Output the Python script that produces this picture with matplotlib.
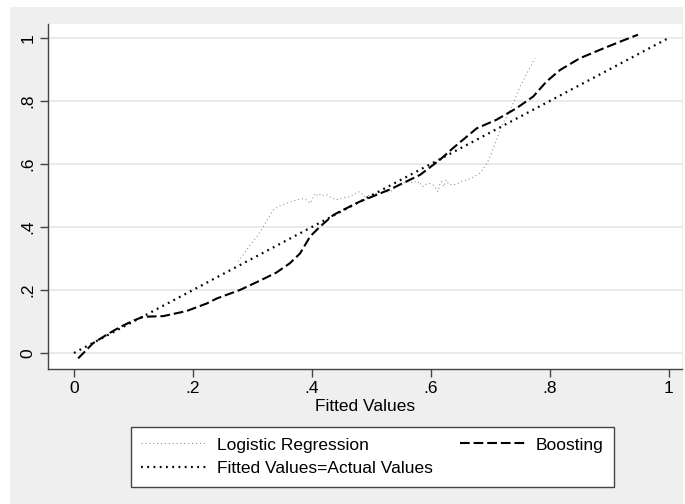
import matplotlib
matplotlib.use('Agg')
import matplotlib.pyplot as plt
from matplotlib.patches import Rectangle

plt.rcParams['font.family'] = ['Liberation Sans', 'DejaVu Sans']
plt.rcParams['lines.scale_dashes'] = False

# logistic regression calibration curve (noisy)
logit_x = [0.276, 0.287, 0.296, 0.306, 0.315, 0.325, 0.335, 0.345, 0.357, 0.368,
           0.38, 0.386, 0.392, 0.397, 0.401, 0.405, 0.41, 0.415, 0.42, 0.425,
           0.43, 0.436, 0.441, 0.448, 0.455, 0.464, 0.471, 0.478, 0.484, 0.489,
           0.495, 0.503, 0.512, 0.52, 0.531, 0.538, 0.545, 0.552, 0.559, 0.566,
           0.572, 0.578, 0.581, 0.584, 0.587, 0.592, 0.598, 0.603, 0.607, 0.61,
           0.612, 0.615, 0.618, 0.621, 0.626, 0.63, 0.637, 0.645, 0.652, 0.66,
           0.671, 0.682, 0.688, 0.694, 0.7, 0.705, 0.712, 0.7185, 0.726, 0.733,
           0.741, 0.75, 0.762, 0.775]
logit_y = [0.29, 0.318, 0.343, 0.366, 0.39, 0.423, 0.454, 0.466, 0.475, 0.482,
           0.488, 0.49, 0.484, 0.475, 0.49, 0.507, 0.498, 0.505, 0.5, 0.502,
           0.495, 0.49, 0.486, 0.49, 0.493, 0.496, 0.503, 0.512, 0.505, 0.496,
           0.5, 0.505, 0.508, 0.51, 0.512, 0.52, 0.53, 0.538, 0.544, 0.54,
           0.546, 0.54, 0.544, 0.53, 0.528, 0.536, 0.538, 0.534, 0.527, 0.515,
           0.512, 0.535, 0.544, 0.528, 0.549, 0.535, 0.533, 0.538, 0.545, 0.549,
           0.558, 0.57, 0.585, 0.602, 0.625, 0.65, 0.685, 0.719, 0.745, 0.771,
           0.805, 0.845, 0.89, 0.935]

# boosting calibration curve
boost_x = [0.007, 0.032, 0.055, 0.077, 0.1, 0.1165, 0.15, 0.189, 0.223, 0.24,
           0.279, 0.313, 0.34, 0.363, 0.38, 0.397, 0.413, 0.436, 0.447, 0.48,
           0.531, 0.5815, 0.615, 0.637, 0.677, 0.71, 0.744, 0.772, 0.794, 0.817,
           0.85, 0.884, 0.918, 0.948]
boost_y = [-0.017, 0.031, 0.058, 0.082, 0.103, 0.115, 0.117, 0.133, 0.157, 0.173,
           0.2, 0.23, 0.255, 0.285, 0.316, 0.37, 0.4, 0.438, 0.449, 0.48,
           0.519, 0.565, 0.613, 0.65, 0.713, 0.74, 0.777, 0.814, 0.861, 0.898,
           0.935, 0.962, 0.988, 1.01]

# 45 degree line
ref_x = [0, 1]
ref_y = [0, 1]

ticks = [0, 0.2, 0.4, 0.6, 0.8, 1]
tick_labels = ['0', '.2', '.4', '.6', '.8', '1']

FS = 12.5
W, H = 685, 504
fig = plt.figure(figsize=(W / 100, H / 100), dpi=100, facecolor='white')
bg = Rectangle((10 / W, 0), 673 / W, 497 / H, transform=fig.transFigure,
               facecolor='#efefef', edgecolor='none', zorder=-10)
fig.patches.append(bg)

ax = fig.add_axes([48 / W, (H - 369) / H, 634 / W, 345 / H])
ax.set_facecolor('white')

l1, = ax.plot(logit_x, logit_y, color='#8a8a8a', linewidth=0.7, dashes=(0.8, 2.0),
              label='Logistic Regression')
l2, = ax.plot(boost_x, boost_y, color='black', linewidth=1.5, dashes=(7.0, 2.8),
              label='Boosting')
l3, = ax.plot(ref_x, ref_y, color='black', linewidth=1.6, dashes=(1.3, 3.2),
              label='Fitted Values=Actual Values')

ax.set_xlim(-0.0437, 1.022)
ax.set_ylim(-0.0508, 1.044)
ax.set_xticks(ticks)
ax.set_xticklabels(tick_labels)
ax.set_yticks(ticks)
ax.set_yticklabels(tick_labels, rotation=90, va='center')
ax.tick_params(axis='both', labelsize=FS, length=6, width=1, color='#444444')
ax.tick_params(axis='x', pad=2.5)
ax.tick_params(axis='y', pad=3)
ax.yaxis.grid(True, color='#e4e4e4', linewidth=1.1)
ax.set_axisbelow(True)
for s in ['top', 'right']:
    ax.spines[s].set_visible(False)
for s in ['left', 'bottom']:
    ax.spines[s].set_color('#444444')
    ax.spines[s].set_linewidth(1)
ax.set_xlabel('Fitted Values', fontsize=FS, labelpad=2)

leg = fig.legend([l1, l3, l2], [l1.get_label(), l3.get_label(), l2.get_label()],
                 ncol=2, loc='upper left', mode='expand',
                 bbox_to_anchor=(131 / W, (H - 427) / H, 483 / W, 0.0),
                 borderaxespad=0, fontsize=FS, handlelength=3.7, handletextpad=0.65,
                 labelspacing=0.5, borderpad=0.6, fancybox=False, frameon=True)
leg.get_frame().set_edgecolor('#444444')
leg.get_frame().set_linewidth(1)
leg.get_frame().set_facecolor('white')
leg.get_frame().set_alpha(1)

fig.savefig('out.png', dpi=100, facecolor='white')
